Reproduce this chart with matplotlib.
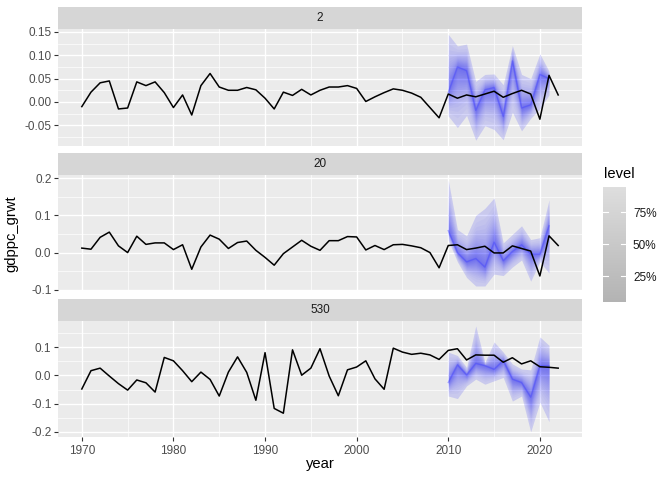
from statistics import NormalDist

import matplotlib
matplotlib.use("Agg")
import matplotlib.pyplot as plt
import numpy as np
from matplotlib.cm import ScalarMappable
from matplotlib.colors import LinearSegmentedColormap, Normalize

plt.rcParams['font.family'] = ['Liberation Sans', 'DejaVu Sans']

# observed series, 1970..2022
years = list(range(1970, 2023))
panel_names = ["2", "20", "530"]

gdp_2 = [-0.010, 0.021, 0.041, 0.045, -0.015, -0.013, 0.043, 0.035, 0.043, 0.020,
         -0.012, 0.015, -0.028, 0.035, 0.061, 0.032, 0.025, 0.025, 0.031, 0.026,
         0.008, -0.015, 0.021, 0.014, 0.027, 0.015, 0.025, 0.032, 0.032, 0.035,
         0.029, 0.001, 0.011, 0.020, 0.028, 0.025, 0.019, 0.010, -0.012, -0.034,
         0.017, 0.008, 0.015, 0.011, 0.017, 0.023, 0.010, 0.018, 0.025, 0.017,
         -0.037, 0.057, 0.015]
gdp_20 = [0.012, 0.009, 0.041, 0.055, 0.018, 0.000, 0.044, 0.022, 0.026, 0.026,
          0.008, 0.021, -0.045, 0.015, 0.047, 0.036, 0.011, 0.027, 0.031, 0.006,
          -0.013, -0.034, -0.003, 0.015, 0.033, 0.017, 0.006, 0.032, 0.032, 0.043,
          0.042, 0.007, 0.019, 0.008, 0.021, 0.022, 0.018, 0.013, 0.000, -0.041,
          0.019, 0.021, 0.008, 0.012, 0.017, -0.001, -0.001, 0.018, 0.011, 0.004,
          -0.063, 0.045, 0.019]
gdp_530 = [-0.048, 0.017, 0.026, -0.002, -0.029, -0.052, -0.016, -0.026, -0.059, 0.064,
           0.052, 0.017, -0.022, 0.012, -0.014, -0.073, 0.012, 0.066, 0.011, -0.088,
           0.081, -0.117, -0.134, 0.091, 0.001, 0.026, 0.095, -0.002, -0.072, 0.020,
           0.030, 0.052, -0.012, -0.049, 0.097, 0.083, 0.075, 0.079, 0.073, 0.057,
           0.089, 0.095, 0.055, 0.073, 0.072, 0.072, 0.047, 0.063, 0.041, 0.052,
           0.031, 0.029, 0.026]

# forecasts 2010..2021: mean and outer (95%) bounds
fc_years = list(range(2010, 2022))
fc_mean_2 = [0.020, 0.075, 0.067, -0.018, 0.026, 0.031, -0.031, 0.088, -0.013, -0.006, 0.059, 0.050]
fc_hi_2 = [0.145, 0.120, 0.124, 0.044, 0.059, 0.060, 0.037, 0.121, 0.059, 0.050, 0.103, 0.066]
fc_lo_2 = [-0.030, -0.055, -0.029, -0.082, -0.051, -0.059, -0.081, -0.022, -0.062, -0.035, -0.015, 0.015]

fc_mean_20 = [0.059, 0.000, -0.025, -0.016, -0.039, 0.028, -0.022, 0.003, 0.021, -0.004, -0.004, 0.072]
fc_hi_20 = [0.195, 0.062, 0.045, 0.100, 0.119, 0.147, 0.026, 0.049, 0.072, 0.035, 0.040, 0.142]
fc_lo_20 = [0.033, -0.025, -0.067, -0.090, -0.090, -0.058, -0.062, -0.039, -0.020, -0.077, -0.025, -0.055]

fc_mean_530 = [-0.025, 0.038, 0.002, 0.043, 0.035, 0.022, 0.053, -0.013, -0.025, -0.077, 0.035, 0.034]
fc_hi_530 = [0.083, 0.071, 0.029, 0.176, 0.047, 0.119, 0.083, 0.041, 0.023, 0.020, 0.137, 0.107]
fc_lo_530 = [-0.073, -0.082, -0.037, -0.013, -0.031, -0.019, -0.007, -0.091, -0.073, -0.200, -0.095, -0.164]

levels = [5, 10, 15, 20, 25, 30, 35, 40, 45, 50, 55, 60, 65, 70, 75, 80, 85, 90, 95]

y_major = [[-0.05, 0.0, 0.05, 0.10, 0.15], [-0.1, 0.0, 0.1, 0.2], [-0.2, -0.1, 0.0, 0.1]]
y_minor = [[-0.075, -0.025, 0.025, 0.075, 0.125], [-0.05, 0.05, 0.15], [-0.15, -0.05, 0.05, 0.15]]
y_fmt = ["{:.2f}", "{:.1f}", "{:.1f}"]

W, H = 672, 480


def box(x0, y0, x1, y1):
    return [x0 / W, 1 - y1 / H, (x1 - x0) / W, (y1 - y0) / H]


def draw_fan(ax, mean, lo, hi):
    mean = np.array(mean)
    lo = np.array(lo)
    hi = np.array(hi)
    z95 = NormalDist().inv_cdf(0.975)
    for k, lv in enumerate(levels[::-1]):
        f = NormalDist().inv_cdf(0.5 + lv / 200) / z95
        # outermost band is the most visible one, the rest stack up slowly
        a = 0.14 if k == 0 else 0.026
        ax.fill_between(fc_years, mean + (lo - mean) * f, mean + (hi - mean) * f,
                        color="#0000ff", alpha=a, lw=0)
    ax.plot(fc_years, mean, color="#4040ff", alpha=0.4, lw=1.0)


fig = plt.figure(figsize=(6.72, 4.8), dpi=100)

series = [gdp_2, gdp_20, gdp_530]
fcs = [(fc_mean_2, fc_lo_2, fc_hi_2), (fc_mean_20, fc_lo_20, fc_hi_20),
       (fc_mean_530, fc_lo_530, fc_hi_530)]

strip_h, panel_h, gap = 22, 116.5, 7.3
left, right = 58, 582
top = 7
for i in range(3):
    s0 = top + i * (strip_h + panel_h + gap)
    sax = fig.add_axes(box(left, s0, right, s0 + strip_h))
    sax.set_facecolor("#d6d6d6")
    sax.set_xticks([])
    sax.set_yticks([])
    for sp in sax.spines.values():
        sp.set_visible(False)
    sax.text(0.5, 0.5, panel_names[i], ha="center", va="center", fontsize=8.45,
             color="#1a1a1a", transform=sax.transAxes)

    ax = fig.add_axes(box(left, s0 + strip_h, right, s0 + strip_h + panel_h))
    ax.set_facecolor("#ebebeb")
    for sp in ax.spines.values():
        sp.set_visible(False)

    mean, lo, hi = fcs[i]
    draw_fan(ax, mean, lo, hi)
    ax.plot(years, series[i], color="black", lw=1.1)

    ax.margins(x=0.05, y=0.05)
    yl = ax.get_ylim()
    xl = ax.get_xlim()
    ax.set_yticks(y_major[i])
    ax.set_yticklabels([y_fmt[i].format(v) for v in y_major[i]])
    ax.set_yticks(y_minor[i], minor=True)
    ax.set_xticks([1970, 1980, 1990, 2000, 2010, 2020])
    ax.set_xticks([1975, 1985, 1995, 2005, 2015], minor=True)
    ax.set_ylim(yl)
    ax.set_xlim(xl)

    ax.grid(which="major", color="white", lw=1.0)
    ax.grid(which="minor", color="white", lw=0.5)
    ax.set_axisbelow(True)
    ax.tick_params(which="minor", length=0)
    ax.tick_params(which="major", length=2.7, width=0.8, color="#333333",
                   labelsize=8.45, labelcolor="#4d4d4d", pad=2)
    if i < 2:
        ax.tick_params(axis="x", which="major", length=0, labelbottom=False)
    else:
        ax.tick_params(axis="x", pad=3)

fig.text(11 / W, 1 - 234 / H, "gdppc_grwt", rotation=90, ha="center", va="center",
         fontsize=10.6, color="black")
fig.text(320 / W, 1 - 457 / H, "year", ha="center", va="top", fontsize=10.6, color="black")

# level legend
cmap = LinearSegmentedColormap.from_list("lvl", ["#b3b3b3", "#dedede"])
cax = fig.add_axes(box(603, 186.7, 626, 301.7))
cb = fig.colorbar(ScalarMappable(norm=Normalize(5, 95), cmap=cmap), cax=cax)
cb.set_ticks([25, 50, 75], labels=["25%", "50%", "75%"])
cb.outline.set_visible(False)
cax.tick_params(length=0, pad=5, labelsize=8.45, labelcolor="#1a1a1a")
for v in [25, 50, 75]:
    cax.axhline(v, 0, 0.2, color="white", lw=0.8)
    cax.axhline(v, 0.8, 1, color="white", lw=0.8)
fig.text(604 / W, 1 - 178 / H, "level", ha="left", va="baseline", fontsize=10.6, color="black")

fig.savefig("out.png", dpi=100)
